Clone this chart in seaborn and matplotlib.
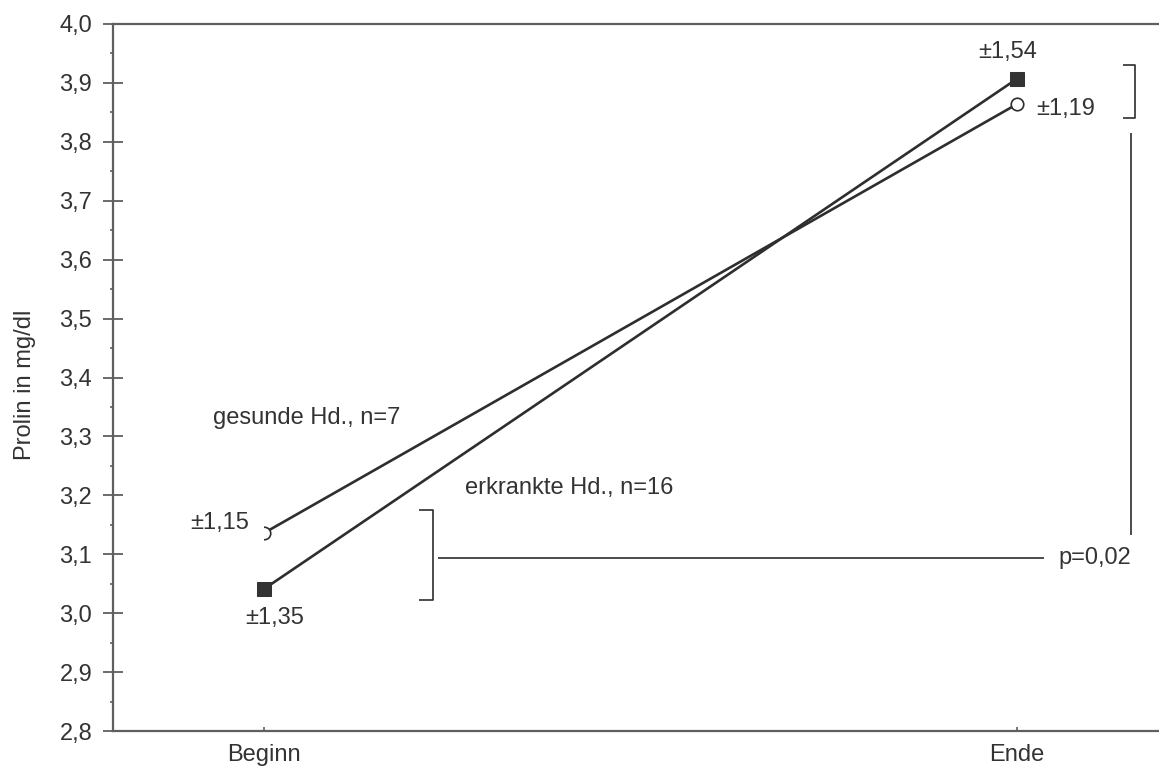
import numpy as np
import pandas as pd
import matplotlib
matplotlib.use("Agg")
import matplotlib.pyplot as plt
from matplotlib.ticker import MultipleLocator, FixedLocator
import seaborn as sns

# Messzeitpunkte und Mittelwerte (Prolin in mg/dl)
zeitpunkte = ["Beginn", "Ende"]
gesund_mw = [3.136, 3.864]
erkrankt_mw = [3.041, 3.907]
gesund_sd = ["±1,15", "±1,19"]
erkrankt_sd = ["±1,35", "±1,54"]
gruppen = ["gesunde Hd., n=7", "erkrankte Hd., n=16"]
p_text = "p=0,02"
y_ticks = [2.8, 2.9, 3.0, 3.1, 3.2, 3.3, 3.4, 3.5, 3.6, 3.7, 3.8, 3.9, 4.0]

sns.set_style("ticks")
plt.rcParams["font.family"] = ["Liberation Sans", "DejaVu Sans"]

TXT = "#333333"
LINE = "#2e2e2e"
SPINE = "#5f5f5f"
FS = 17

fig = plt.figure(figsize=(11.59, 7.69), dpi=100)
ax = fig.add_axes([0.0975, 0.0494, 0.9025, 0.9194])

x_pos = np.arange(len(zeitpunkte))
df = pd.DataFrame({
    "x": np.concatenate([x_pos, x_pos]),
    "wert": gesund_mw + erkrankt_mw,
    "gruppe": [gruppen[0]] * 2 + [gruppen[1]] * 2,
})

sns.lineplot(data=df[df.gruppe == gruppen[1]], x="x", y="wert", ax=ax,
             color=LINE, lw=1.9, marker="s", markersize=10,
             markerfacecolor="#333333", markeredgecolor="#333333",
             zorder=3, legend=False)
sns.lineplot(data=df[df.gruppe == gruppen[0]], x="x", y="wert", ax=ax,
             color=LINE, lw=1.9, marker="o", markersize=9,
             markerfacecolor="white", markeredgecolor=LINE,
             markeredgewidth=1.2, zorder=3, legend=False)

ax.set_xlim(-0.2005, 1.1886)
ax.set_ylim(2.8, 4.0)

# Achsen
for s in ["left", "bottom", "top"]:
    ax.spines[s].set_color(SPINE)
    ax.spines[s].set_linewidth(1.6)
ax.spines["right"].set_visible(False)

ax.set_xticks(x_pos)
ax.set_xticklabels(zeitpunkte)
ax.yaxis.set_major_locator(FixedLocator(y_ticks))
ax.set_yticklabels([f"{v:.1f}".replace(".", ",") for v in y_ticks])
ax.yaxis.set_minor_locator(MultipleLocator(0.05))
ax.tick_params(axis="y", which="major", direction="inout", length=14,
               width=1.3, color=SPINE, labelsize=FS, labelcolor=TXT, pad=8)
ax.tick_params(axis="y", which="minor", direction="out", length=2.5,
               width=1.2, color=SPINE)
ax.tick_params(axis="x", which="major", direction="in", length=3,
               width=1.2, color=SPINE, labelsize=FS, labelcolor=TXT, pad=9)
ax.set_xlabel("")
ax.set_ylabel("Prolin in mg/dl", fontsize=FS, color=TXT)
ax.yaxis.set_label_coords(-0.074, 0.489)

# Streuungsangaben (das Feld hinter "±1,15" überdeckt den Kreis teilweise)
ax.text(-0.059, 3.153, gesund_sd[0], fontsize=FS, color=TXT, ha="center",
        va="center", zorder=4,
        bbox=dict(boxstyle="square,pad=0.62", fc="white", ec="none"))
ax.text(1.065, 3.856, gesund_sd[1], fontsize=FS, color=TXT, ha="center",
        va="center")
ax.text(0.0146, 2.992, erkrankt_sd[0], fontsize=FS, color=TXT, ha="center",
        va="center")
ax.text(0.988, 3.952, erkrankt_sd[1], fontsize=FS, color=TXT, ha="center",
        va="center")

# Gruppenbeschriftungen
ax.text(-0.0677, 3.331, gruppen[0], fontsize=FS, color=TXT, ha="left",
        va="center")
ax.text(0.267, 3.212, gruppen[1], fontsize=FS, color=TXT, ha="left",
        va="center")

# Signifikanzklammern
bk = dict(color=LINE, lw=1.2, solid_capstyle="butt", clip_on=False)
ax.plot([0.206, 0.2244, 0.2244, 0.206], [3.175, 3.175, 3.022, 3.022], **bk)
ax.plot([0.231, 1.036], [3.0936, 3.0936], **bk)
ax.plot([1.1408, 1.1567, 1.1567, 1.1408], [3.930, 3.930, 3.840, 3.840], **bk)
ax.plot([1.1514, 1.1514], [3.815, 3.133], **bk)
ax.text(1.0544, 3.094, p_text, fontsize=FS, color=TXT, ha="left",
        va="center")

fig.savefig("out.png", dpi=100)
